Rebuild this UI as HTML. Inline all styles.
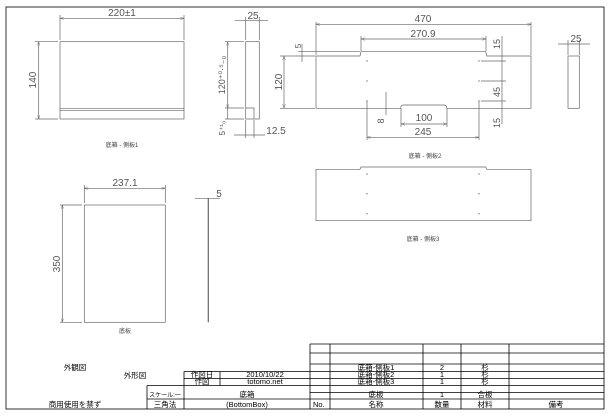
<!DOCTYPE html>
<html><head><meta charset="utf-8"><style>
html,body{margin:0;padding:0;background:#fff;}
svg{display:block;}
.d{stroke:#666;stroke-width:0.7;fill:none;}
.t{font-family:"Liberation Sans",sans-serif;fill:#555;font-size:10px;}
.j{font-family:"Liberation Sans","Noto Sans CJK JP",sans-serif;fill:#000;font-size:7.5px;}
.l{font-family:"Liberation Sans","Noto Sans CJK JP",sans-serif;fill:#444;font-size:6px;}
.b{stroke:#000;stroke-width:0.8;fill:none;}
</style></head><body>
<svg width="611" height="419" viewBox="0 0 611 419">
<rect x="6" y="7" width="598" height="402" class="b" stroke-width="1.2"/>
<defs><marker id="a" markerWidth="6" markerHeight="4" refX="6" refY="2" orient="auto-start-reverse"><path d="M0,0 L6,2 L0,4" fill="none" stroke="#666" stroke-width="0.6"/></marker></defs>
<g class="d">
<rect x="60" y="41.7" width="124" height="77.3"/>
<line x1="60" y1="108.3" x2="184" y2="108.3"/><line x1="60" y1="110.3" x2="184" y2="110.3"/>
<line x1="60" y1="15" x2="60" y2="40"/><line x1="184" y1="15" x2="184" y2="40"/>
<line x1="60" y1="18.3" x2="184" y2="18.3" marker-start="url(#a)" marker-end="url(#a)"/>
<line x1="35" y1="41.7" x2="58" y2="41.7"/><line x1="35" y1="119" x2="58" y2="119"/>
<line x1="38.7" y1="41.7" x2="38.7" y2="119" marker-start="url(#a)" marker-end="url(#a)"/>
<rect x="245.7" y="41.7" width="13.6" height="77.3"/>
<path d="M245.7,108 H254 V119"/>
<line x1="245.7" y1="17" x2="245.7" y2="40"/><line x1="259.3" y1="17" x2="259.3" y2="40"/>
<line x1="234.7" y1="20.7" x2="268" y2="20.7"/>
<line x1="225" y1="41.7" x2="244" y2="41.7"/><line x1="225" y1="108" x2="244" y2="108"/><line x1="225" y1="119" x2="244" y2="119"/>
<line x1="227.7" y1="41.7" x2="227.7" y2="108" marker-start="url(#a)" marker-end="url(#a)"/>
<line x1="227.7" y1="108" x2="227.7" y2="119"/>
<line x1="245.7" y1="120" x2="245.7" y2="138"/><line x1="254" y1="120" x2="254" y2="138"/>
<line x1="234" y1="135" x2="265" y2="135"/>
<path d="M316,56 H360 L361,51.7 H485.7 L486.7,56 H531 V108.3 H447 Q446.7,105 444,105 H403.5 Q400.7,105 400.7,108.3 H316 Z"/>
<line x1="316" y1="22" x2="316" y2="55"/><line x1="531" y1="22" x2="531" y2="55"/>
<line x1="316" y1="24.3" x2="531" y2="24.3" marker-start="url(#a)" marker-end="url(#a)"/>
<line x1="361" y1="36" x2="361" y2="51"/><line x1="486" y1="36" x2="486" y2="51"/>
<line x1="361" y1="39" x2="486" y2="39" marker-start="url(#a)" marker-end="url(#a)"/>
<line x1="280" y1="56" x2="315" y2="56"/><line x1="280" y1="108.3" x2="315" y2="108.3"/>
<line x1="284" y1="56" x2="284" y2="108.3" marker-start="url(#a)" marker-end="url(#a)"/>
<line x1="298" y1="51.7" x2="360" y2="51.7"/>
<line x1="302" y1="44" x2="302" y2="62"/>
<line x1="481" y1="61" x2="506" y2="61"/><line x1="481" y1="81" x2="506" y2="81"/><line x1="481" y1="101" x2="506" y2="101"/>
<line x1="502" y1="36" x2="502" y2="124"/>
<line x1="386" y1="92" x2="386" y2="115"/>
<line x1="401" y1="108" x2="401" y2="127"/><line x1="447" y1="108" x2="447" y2="127"/>
<line x1="401" y1="124" x2="447" y2="124" marker-start="url(#a)" marker-end="url(#a)"/>
<line x1="367" y1="101" x2="367" y2="140"/><line x1="479" y1="101" x2="479" y2="140"/>
<line x1="367" y1="137.3" x2="479" y2="137.3" marker-start="url(#a)" marker-end="url(#a)"/>
<rect x="568" y="56" width="11.3" height="52.3"/>
<line x1="558" y1="44" x2="590" y2="44"/>
<line x1="568" y1="40" x2="568" y2="55"/><line x1="579.3" y1="40" x2="579.3" y2="55"/>
<path d="M316,169.3 H360 L361,167 H485.7 L486.7,169.3 H531 V220.7 H316 Z"/>
<rect x="84.3" y="205" width="81" height="117.3"/>
<line x1="84.3" y1="185" x2="84.3" y2="203"/><line x1="165.3" y1="185" x2="165.3" y2="203"/>
<line x1="84.3" y1="188.3" x2="165.3" y2="188.3" marker-start="url(#a)" marker-end="url(#a)"/>
<line x1="60" y1="205" x2="82" y2="205"/><line x1="60" y1="322.3" x2="82" y2="322.3"/>
<line x1="62.3" y1="205" x2="62.3" y2="322.3" marker-start="url(#a)" marker-end="url(#a)"/>
<line x1="208.3" y1="198" x2="208.3" y2="322.3" stroke-width="1.2"/>
<line x1="195" y1="198.7" x2="220" y2="198.7"/>
</g>
<g fill="#777">
<circle cx="367" cy="61" r="0.7"/><circle cx="367" cy="81" r="0.7"/><circle cx="367" cy="101" r="0.7"/>
<circle cx="479" cy="61" r="0.7"/><circle cx="479" cy="81" r="0.7"/><circle cx="479" cy="101" r="0.7"/>
<circle cx="367" cy="174" r="0.7"/><circle cx="367" cy="193.7" r="0.7"/><circle cx="367" cy="213.7" r="0.7"/>
<circle cx="479" cy="174" r="0.7"/><circle cx="479" cy="193.7" r="0.7"/><circle cx="479" cy="213.7" r="0.7"/>
</g>
<g class="t" text-anchor="middle">
<text x="122" y="16">220±1</text>
<text transform="translate(36,80) rotate(-90)">140</text>
<text x="253" y="19">25</text>
<text transform="translate(225,75) rotate(-90)" font-size="9">120⁺⁰·⁵₋₀</text>
<text transform="translate(225,128) rotate(-90)" font-size="8">5⁺¹₀</text>
<text x="276" y="134">12.5</text>
<text x="423" y="22">470</text>
<text x="423" y="37">270.9</text>
<text transform="translate(282,82) rotate(-90)">120</text>
<text transform="translate(301,46) rotate(-90)" font-size="8">5</text>
<text transform="translate(500,44) rotate(-90)" font-size="9">15</text>
<text transform="translate(500,92) rotate(-90)" font-size="9">45</text>
<text transform="translate(500,123) rotate(-90)" font-size="9">15</text>
<text transform="translate(384,121) rotate(-90)" font-size="9">8</text>
<text x="424" y="121">100</text>
<text x="423" y="135">245</text>
<text x="576" y="42">25</text>
<text x="125" y="186">237.1</text>
<text transform="translate(60,264) rotate(-90)">350</text>
<text x="219" y="197">5</text>
</g>
<g class="l" text-anchor="middle">
<text x="122" y="147">底箱 - 側板1</text>
<text x="425" y="158">底箱 - 側板2</text>
<text x="423" y="241">底箱 - 側板3</text>
<text x="125" y="333">底板</text>
</g>
<g class="b">
<line x1="310" y1="344" x2="604" y2="344"/>
<line x1="310" y1="353" x2="604" y2="353"/>
<line x1="310" y1="364" x2="604" y2="364"/>
<line x1="184" y1="371.5" x2="604" y2="371.5"/>
<line x1="184" y1="378.5" x2="604" y2="378.5"/>
<line x1="147" y1="385.5" x2="604" y2="385.5"/>
<line x1="310" y1="392.5" x2="604" y2="392.5"/>
<line x1="147" y1="399" x2="604" y2="399"/>
<line x1="310" y1="344" x2="310" y2="409"/>
<line x1="330" y1="344" x2="330" y2="409"/>
<line x1="423" y1="344" x2="423" y2="409"/>
<line x1="461" y1="344" x2="461" y2="409"/>
<line x1="509" y1="344" x2="509" y2="409"/>
<line x1="184" y1="371.5" x2="184" y2="409"/>
<line x1="220" y1="371.5" x2="220" y2="385.5"/>
<line x1="147" y1="385.5" x2="147" y2="409"/>
</g>
<g class="j" text-anchor="middle">
<text x="376" y="370">底箱-側板1</text><text x="442" y="370">2</text><text x="485" y="370">杉</text>
<text x="376" y="377">底箱-側板2</text><text x="442" y="377">1</text><text x="485" y="377">杉</text>
<text x="376" y="384">底箱-側板3</text><text x="442" y="384">1</text><text x="485" y="384">杉</text>
<text x="376" y="397">底板</text><text x="442" y="397">1</text><text x="485" y="397">合板</text>
<text x="376" y="407">名称</text><text x="442" y="407">数量</text><text x="485" y="407">材料</text><text x="556" y="407">備考</text>
<text x="202" y="377">作図日</text><text x="265" y="377">2010/10/22</text>
<text x="202" y="384">作図</text><text x="265" y="384">totomo.net</text>
<text x="165" y="397" font-size="6">スケール:一</text><text x="165" y="407">三角法</text>
<text x="247" y="397">底箱</text><text x="247" y="407">(BottomBox)</text>
<text x="75" y="370">外観図</text>
<text x="135" y="378">外形図</text>
<text x="75" y="407">商用使用を禁ず</text>
</g>
<text x="313" y="407" class="j">No.</text>
</svg>
</body></html>
